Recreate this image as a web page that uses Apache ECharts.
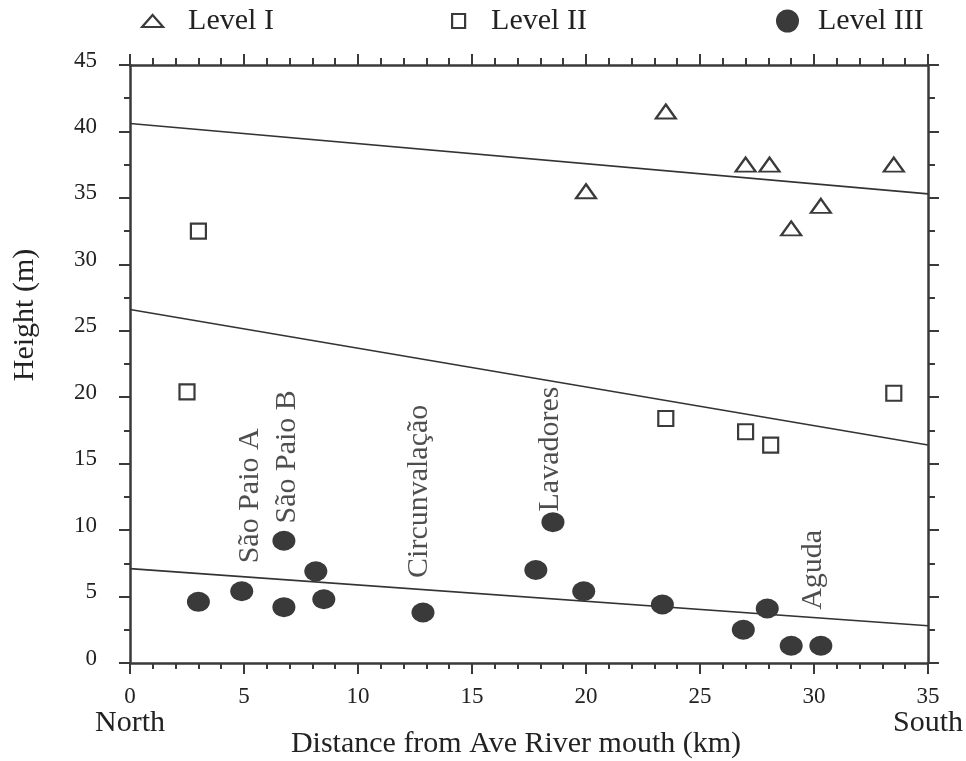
<!DOCTYPE html>
<html><head><meta charset="utf-8">
<script src="https://cdn.jsdelivr.net/npm/echarts@6.0.0/dist/echarts.min.js"></script>
<style>html,body{margin:0;padding:0;background:#fff}#c{width:966px;height:761px}</style>
</head><body><div id="c"></div>
<script>
// ---- data ----
const levelNames = ['Level I', 'Level II', 'Level III'];
const levelI = [[20.0,35.5],[23.5,41.5],[27.0,37.5],[28.05,37.5],[29.0,32.7],[30.3,34.4],[33.5,37.5]];
const levelII = [[3.0,32.5],[2.5,20.4],[23.5,18.4],[27.0,17.4],[28.1,16.4],[33.5,20.3]];
const levelIII = [[3.0,4.6],[4.9,5.4],[6.75,9.2],[6.75,4.2],[8.15,6.9],[8.5,4.8],[12.85,3.8],[17.8,7.0],[18.55,10.6],[19.9,5.4],[23.35,4.4],[26.9,2.5],[27.95,4.1],[29.0,1.3],[30.3,1.3]];
const trendI = [[0,40.6],[35,35.3]];
const trendII = [[0,26.6],[35,16.4]];
const trendIII = [[0,7.1],[35,2.8]];
const siteNames = ['São Paio A','São Paio B','Circunvalação','Lavadores','Aguda'];
const siteX = [5.26, 6.89, 12.68, 18.42, 29.96];
const siteY = [7.5, 10.5, 6.4, 11.4, 4.0];
const xRange = [0, 35, 5];
const yRange = [0, 45, 5];
const directionLabels = ['North', 'South'];
const xTitle = 'Distance from Ave River mouth (km)';
const yTitle = 'Height (m)';

const FONT = "'Liberation Serif', 'Times New Roman', serif";
const INK = '#222';
const AX = '#3a3a3a';

const axisCommon = {
  type: 'value',
  axisLine: { show: true, onZero: false, lineStyle: { color: AX, width: 2.5 } },
  axisTick: { show: true, inside: false, length: 11, lineStyle: { color: AX, width: 2 } },
  splitLine: { show: false }
};

const chart = echarts.init(document.getElementById('c'), null, { renderer: 'canvas' });

function legendFor(i, left, icon, w, h, itemStyle, textPadLeft) {
  return {
    data: [{ name: levelNames[i], icon: icon, itemStyle: itemStyle }],
    left: left, top: 6, padding: 0, itemWidth: w, itemHeight: h,
    selectedMode: false,
    textStyle: { fontFamily: FONT, fontSize: 30, color: INK, lineHeight: 30, padding: [0, 0, 0, textPadLeft] }
  };
}

chart.setOption({
  animation: false,
  backgroundColor: '#fff',
  grid: { left: 130, right: 38, top: 65, bottom: 98, outerBoundsMode: 'none', containLabel: false },
  legend: [
    legendFor(0, 141, 'triangle', 21, 12, { color: '#fff', borderColor: AX, borderWidth: 2.2 }, 20),
    legendFor(1, 451, 'rect', 13, 14, { color: '#fff', borderColor: AX, borderWidth: 2.2 }, 21),
    legendFor(2, 776, 'circle', 27, 23, { color: AX, borderWidth: 0 }, 12)
  ],
  xAxis: [
    Object.assign({}, axisCommon, {
      position: 'bottom', min: xRange[0], max: xRange[1], interval: xRange[2],
      minorTick: { show: true, splitNumber: 5, length: 6, lineStyle: { color: AX, width: 2 } },
      axisLabel: {
        margin: 22, showMinLabel: true, showMaxLabel: true,
        fontFamily: FONT, fontSize: 23, color: INK,
        formatter: function (v) {
          if (v === xRange[0]) return '{n|' + v + '}\n{d|' + directionLabels[0] + '}';
          if (v === xRange[1]) return '{n|' + v + '}\n{d|' + directionLabels[1] + '}';
          return '{n|' + v + '}';
        },
        rich: {
          n: { fontFamily: FONT, fontSize: 23, color: INK, lineHeight: 24 },
          d: { fontFamily: FONT, fontSize: 30, color: INK, lineHeight: 28 }
        }
      },
      name: xTitle, nameLocation: 'middle', nameGap: 66, nameMoveOverlap: false,
      nameTextStyle: { fontFamily: FONT, fontSize: 30, color: INK, lineHeight: 30, padding: [0, 26, 0, 0] }
    }),
    Object.assign({}, axisCommon, {
      position: 'top', min: xRange[0], max: xRange[1], interval: xRange[2],
      minorTick: { show: true, splitNumber: 5, length: 7, lineStyle: { color: AX, width: 2 } },
      axisLabel: { show: false }
    })
  ],
  yAxis: [
    Object.assign({}, axisCommon, {
      position: 'left', min: yRange[0], max: yRange[1], interval: yRange[2],
      minorTick: { show: true, splitNumber: 2, length: 6, lineStyle: { color: AX, width: 2 } },
      axisLabel: { margin: 33, fontFamily: FONT, fontSize: 23, color: INK, verticalAlign: 'bottom', lineHeight: 9, showMinLabel: true, showMaxLabel: true },
      name: yTitle, nameLocation: 'middle', nameGap: 90, nameMoveOverlap: false,
      nameTextStyle: { fontFamily: FONT, fontSize: 30, color: INK, padding: [0, 0, 0, 98] }
    }),
    Object.assign({}, axisCommon, {
      position: 'right', min: yRange[0], max: yRange[1], interval: yRange[2],
      minorTick: { show: true, splitNumber: 2, length: 7, lineStyle: { color: AX, width: 2 } },
      axisLabel: { show: false }
    })
  ],
  series: [
    { name: 'trendI', type: 'line', data: trendI, symbol: 'none', silent: true,
      lineStyle: { color: '#333', width: 1.6 }, z: 2 },
    { name: 'trendII', type: 'line', data: trendII, symbol: 'none', silent: true,
      lineStyle: { color: '#333', width: 1.6 }, z: 2 },
    { name: 'trendIII', type: 'line', data: trendIII, symbol: 'none', silent: true,
      lineStyle: { color: '#333', width: 1.6 }, z: 2 },
    { name: levelNames[0], type: 'scatter', data: levelI, symbol: 'triangle', symbolSize: [20, 14],
      itemStyle: { color: '#fff', borderColor: AX, borderWidth: 2.2, opacity: 1 }, z: 3 },
    { name: levelNames[1], type: 'scatter', data: levelII, symbol: 'rect', symbolSize: [15, 15],
      itemStyle: { color: '#fff', borderColor: AX, borderWidth: 2.2, opacity: 1 }, z: 3 },
    { name: levelNames[2], type: 'scatter', data: levelIII, symbol: 'circle', symbolSize: [23, 20],
      itemStyle: { color: AX, opacity: 1 }, z: 3 },
    { name: 'sites', type: 'scatter', silent: true, symbolSize: 0,
      data: siteNames.map(function (n, i) { return { name: n, value: [siteX[i], siteY[i]] }; }),
      itemStyle: { color: 'transparent' },
      label: { show: true, position: 'inside', rotate: 90, align: 'left', verticalAlign: 'middle',
        formatter: '{b}', fontFamily: FONT, fontSize: 30, color: INK },
      z: 4 }
  ]
});
</script>
</body></html>
